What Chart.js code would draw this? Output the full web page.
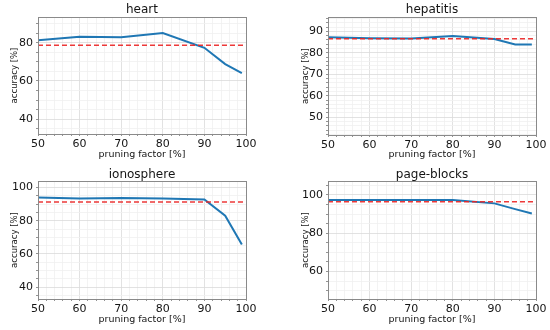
<!DOCTYPE html>
<html>
<head>
<meta charset="utf-8">
<script src="https://cdn.jsdelivr.net/npm/chart.js@4.4.1/dist/chart.umd.min.js"></script>
<style>
    body { margin: 0; background: #fff; width: 550px; height: 330px; position: relative; overflow: hidden; }
    .panel { position: absolute; width: 275px; height: 165px; }
</style>
</head>
<body>
<div class="panel" style="left:0;top:0"><canvas id="heartChart" width="275" height="165"></canvas></div>
<div class="panel" style="left:275px;top:0"><canvas id="hepatitisChart" width="275" height="165"></canvas></div>
<div class="panel" style="left:0;top:165px"><canvas id="ionosphereChart" width="275" height="165"></canvas></div>
<div class="panel" style="left:275px;top:165px"><canvas id="pageBlocksChart" width="275" height="165"></canvas></div>
<script>
// --- Data ---
const pruningFactor = [50, 60, 70, 80, 90, 95, 99];
const xTickLabels = [50, 60, 70, 80, 90, 100];

const heartAccuracy = [81.3, 83.1, 82.8, 85.0, 77.3, 68.8, 64.1];
const heartBaseline = 78.6;
const heartYTicks = [40, 60, 80];

const hepatitisAccuracy = [87.3, 86.8, 86.7, 87.9, 86.4, 83.9, 83.9];
const hepatitisBaseline = 86.6;
const hepatitisYTicks = [50, 60, 70, 80, 90];

const ionosphereAccuracy = [94.0, 93.4, 93.7, 93.4, 92.9, 83.1, 65.7];
const ionosphereBaseline = 91.3;
const ionosphereYTicks = [40, 60, 80, 100];

const pageBlocksAccuracy = [97.4, 97.4, 97.4, 97.3, 95.6, 92.6, 90.3];
const pageBlocksBaseline = 96.5;
const pageBlocksYTicks = [60, 80, 100];

// --- Style ---
const BLUE = '#1f77b4';
const RED = 'rgba(235, 35, 35, 0.9)';
const FONT = 'DejaVu Sans';
const TEXT = '#141414';

Chart.defaults.font.family = FONT;
Chart.defaults.color = TEXT;

// draws the top/right spines too
const frame = {
    id: 'frame',
    afterDraw(chart) {
        const { ctx, chartArea: a } = chart;
        ctx.save();
        ctx.strokeStyle = '#8a8a8a';
        ctx.lineWidth = 1;
        ctx.strokeRect(Math.round(a.left) + 0.5, Math.round(a.top) + 0.5,
            Math.round(a.right - a.left), Math.round(a.bottom - a.top));
        ctx.restore();
    }
};

function range(lo, hi, step) {
    const out = [];
    for (let v = Math.ceil(lo / step - 1e-9) * step; v <= hi + 1e-9; v += step) out.push(+v.toFixed(6));
    return out;
}

function makeChart(cfg) {
    const p = cfg.plot;
    const titleLine = 12;
    const titleTop = 10.3 - titleLine / 2;

    return new Chart(document.getElementById(cfg.id), {
        type: 'line',
        data: {
            datasets: [
                {
                    data: [{ x: 50, y: cfg.base }, { x: 100, y: cfg.base }],
                    borderColor: RED, borderWidth: 1.5, borderDash: [5, 3],
                    pointRadius: 0, fill: false
                },
                {
                    data: pruningFactor.map((x, i) => ({ x, y: cfg.acc[i] })),
                    borderColor: BLUE, borderWidth: 2, pointRadius: 0,
                    tension: 0, fill: false
                }
            ]
        },
        options: {
            responsive: false,
            animation: false,
            devicePixelRatio: 1,
            layout: { padding: { left: 0, top: 0, right: 275 - p.right, bottom: 0 } },
            plugins: {
                legend: { display: false },
                tooltip: { enabled: false },
                title: {
                    display: true, text: cfg.title, color: TEXT, fullSize: false,
                    font: { size: 12, weight: 'normal', lineHeight: 1 },
                    padding: { top: titleTop, bottom: p.top - titleLine - titleTop }
                }
            },
            scales: {
                x: {
                    type: 'linear', min: 50, max: 100,
                    afterBuildTicks: s => { s.ticks = range(50, 100, 2).map(v => ({ value: v })); },
                    afterFit: s => { s.height = 165 - p.bottom; },
                    ticks: {
                        autoSkip: false, maxRotation: 0, padding: 2,
                        font: { size: 11 }, color: TEXT,
                        callback: v => xTickLabels.includes(v) ? String(v) : ''
                    },
                    grid: {
                        color: c => xTickLabels.includes(c.tick && c.tick.value) ? '#dadada' : '#f0f0f0',
                        lineWidth: 0.8, tickLength: 2, tickColor: '#777'
                    },
                    border: { display: true, color: '#8a8a8a', width: 1 },
                    title: {
                        display: true, text: 'pruning factor [%]', color: TEXT,
                        font: { size: 9.5 }, padding: { top: 0, bottom: 4.5 }
                    }
                },
                y: {
                    min: cfg.yMin, max: cfg.yMax,
                    afterBuildTicks: s => { s.ticks = range(cfg.yMin, cfg.yMax, cfg.yMinor).map(v => ({ value: v })); },
                    afterFit: s => { s.width = p.left; },
                    ticks: {
                        autoSkip: false, padding: 3,
                        font: { size: 11 }, color: TEXT,
                        callback: v => cfg.yTicks.includes(v) ? String(v) : ''
                    },
                    grid: {
                        color: c => cfg.yTicks.includes(c.tick && c.tick.value) ? '#dadada' : '#f0f0f0',
                        lineWidth: 0.8, tickLength: 2, tickColor: '#777'
                    },
                    border: { display: true, color: '#8a8a8a', width: 1 },
                    title: {
                        display: true, text: 'accuracy [%]', color: TEXT,
                        font: { size: 8.5 }, padding: { top: cfg.yTitlePad, bottom: 0 }
                    }
                }
            }
        },
        plugins: [frame]
    });
}

makeChart({
    id: 'heartChart', title: 'heart', acc: heartAccuracy, base: heartBaseline,
    yMin: 32.3, yMax: 93.4, yTicks: heartYTicks, yMinor: 5, yTitlePad: 10,
    plot: { left: 38, top: 17, right: 246, bottom: 134 }
});
makeChart({
    id: 'hepatitisChart', title: 'hepatitis', acc: hepatitisAccuracy, base: hepatitisBaseline,
    yMin: 41.7, yMax: 96.7, yTicks: hepatitisYTicks, yMinor: 2, yTitlePad: 26,
    plot: { left: 53, top: 17, right: 261, bottom: 135 }
});
makeChart({
    id: 'ionosphereChart', title: 'ionosphere', acc: ionosphereAccuracy, base: ionosphereBaseline,
    yMin: 32.8, yMax: 104, yTicks: ionosphereYTicks, yMinor: 5, yTitlePad: 10,
    plot: { left: 38, top: 16, right: 246, bottom: 134 }
});
makeChart({
    id: 'pageBlocksChart', title: 'page-blocks', acc: pageBlocksAccuracy, base: pageBlocksBaseline,
    yMin: 45.6, yMax: 107.3, yTicks: pageBlocksYTicks, yMinor: 5, yTitlePad: 26,
    plot: { left: 53, top: 16, right: 261, bottom: 134 }
});
</script>
</body>
</html>
